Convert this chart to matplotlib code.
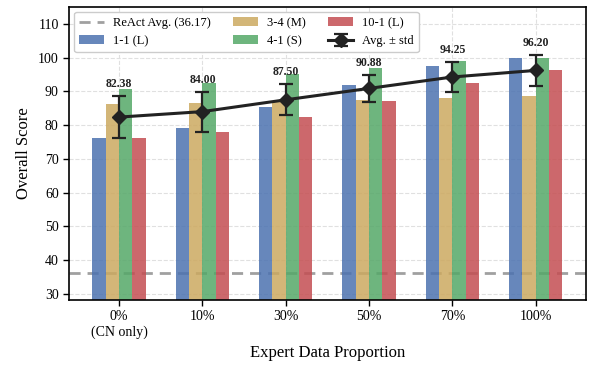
import numpy as np
import matplotlib
matplotlib.use('Agg')
import matplotlib.pyplot as plt

plt.rcParams['font.family'] = ['Liberation Serif', 'DejaVu Serif']

proportions = ['0%\n(CN only)', '10%', '30%', '50%', '70%', '100%']
series_names = ['1-1 (L)', '3-4 (M)', '4-1 (S)', '10-1 (L)']
scores_11 = [76.25, 79.0, 85.5, 92.0, 97.5, 100.0]
scores_34 = [86.25, 86.5, 87.0, 87.5, 88.0, 88.6]
scores_41 = [90.75, 92.5, 95.0, 97.0, 99.0, 100.0]
scores_101 = [76.25, 78.0, 82.5, 87.0, 92.5, 96.2]
react_avg = 36.17

colors = ['#4C72B0', '#CCA960', '#55A868', '#C44E52']

data = np.array([scores_11, scores_34, scores_41, scores_101])
mean = data.mean(axis=0)
std = data.std(axis=0)

fig = plt.figure(figsize=(5.91, 3.65), dpi=100)
ax = fig.add_axes([0.117, 0.178, 0.874, 0.803])

x = np.arange(len(proportions))
w = 0.16
offsets = [-1.5 * w, -0.5 * w, 0.5 * w, 1.5 * w]

react = ax.axhline(react_avg, color='#a0a0a0', ls='--', lw=2, dashes=(4, 2.5),
                   label=f'ReAct Avg. ({react_avg:.2f})', zorder=1)

bars = []
for i in range(4):
    b = ax.bar(x + offsets[i], data[i], w, color=colors[i], alpha=0.85,
               label=series_names[i], zorder=2)
    bars.append(b)

eb = ax.errorbar(x, mean, yerr=std, color='#222222', lw=2.2, marker='D', ms=7.5,
                 capsize=5, capthick=1.6, elinewidth=1.6, label='Avg. ± std', zorder=4)

for xi, m, s in zip(x, mean, std):
    ax.text(xi, m + s + 1.8, f'{m:.2f}', ha='center', va='bottom',
            fontsize=8.5, fontweight='bold', color='#222222', zorder=5)

ax.set_xlim(-0.6, 5.6)
ax.set_ylim(28.2, 115)
ax.set_yticks(np.arange(30, 111, 10))
ax.set_xticks(x)
ax.set_xticklabels(proportions, fontsize=10)
ax.tick_params(axis='y', labelsize=10)
ax.tick_params(direction='out', length=4, width=1)
ax.grid(True, ls='--', color='#e0e0e0', lw=0.8, zorder=0)
ax.set_axisbelow(True)
for sp in ax.spines.values():
    sp.set_linewidth(1.2)
    sp.set_color('black')

ax.set_xlabel('Expert Data Proportion', fontsize=12)
ax.set_ylabel('Overall Score', fontsize=12)

handles = [react, bars[0], bars[1], bars[2], bars[3], eb]
labels = [h.get_label() for h in handles]
ax.legend(handles, labels, loc='upper left', ncol=3, fontsize=9,
          frameon=True, edgecolor='#cccccc', framealpha=1,
          handlelength=2.0, handletextpad=0.7, columnspacing=1.8,
          borderaxespad=0.4)

fig.savefig('out.png', dpi=100)
